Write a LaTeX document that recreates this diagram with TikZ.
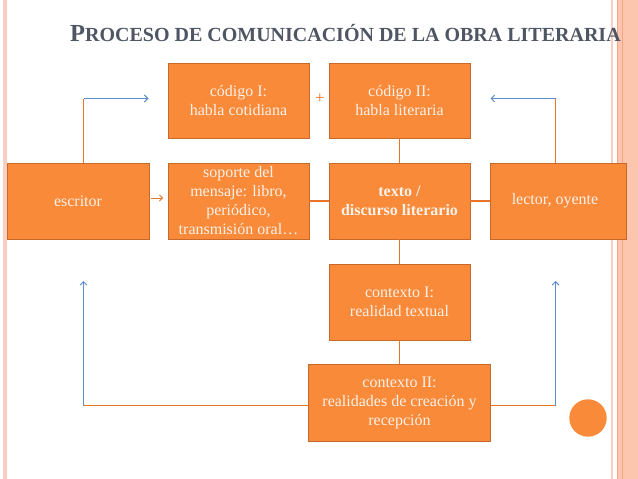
\documentclass[tikz,border=0pt]{standalone}
\usepackage{fontspec}
\setmainfont{Liberation Serif}
\usetikzlibrary{arrows.meta}
\definecolor{boxfill}{HTML}{F88A3A}
\definecolor{boxline}{HTML}{C8692C}
\definecolor{boxtext}{HTML}{FDF1E8}
\definecolor{conncol}{HTML}{E8742A}
\definecolor{bluecol}{HTML}{5B8BC8}
\definecolor{titlecol}{HTML}{4E5664}
\definecolor{pinkA}{HTML}{F8CFC0}
\definecolor{pinkB}{HTML}{FCC6AE}
\definecolor{pinkC}{HTML}{F3A585}
\tikzset{
  box/.style={draw=boxline, line width=0.9pt, fill=boxfill, text=boxtext, inner sep=0pt,
    align=center, font=\fontsize{16}{19}\selectfont},
  orangeline/.style={draw=conncol, line width=1.2pt},
  bluearrow/.style={draw=bluecol, line width=1pt, -{Straight Barb[length=3.5pt,width=7pt]}},
  smallarrow/.style={draw=conncol, line width=0.9pt, -{Straight Barb[length=3pt,width=6pt]}}
}
\begin{document}
\begin{tikzpicture}[x=1pt,y=-1pt]
\useasboundingbox (0,0) rectangle (638,479);
\fill[white] (0,0) rectangle (638,479);
% borders
\fill[pinkA] (3,0) rectangle (7,479);
\fill[pinkA] (610.5,0) rectangle (613,479);
\fill[pinkB] (617,0) rectangle (638,479);
\draw[pinkC, line width=0.8pt] (617.5,0) -- (617.5,479);
\draw[pinkC, line width=0.8pt] (622,0) -- (622,479);
% title
\node[anchor=base west, text=titlecol, inner sep=0pt, font=\bfseries] (title) at (70,41.5)
  {{\fontsize{24.5}{24.5}\selectfont P}{\fontsize{20}{20}\selectfont ROCESO DE COMUNICACIÓN DE LA OBRA LITERARIA}};
% boxes
\node[box, minimum width=141pt, minimum height=75pt] (codeI) at (238.5,100.5) {código I:\\habla cotidiana};
\node[box, minimum width=141pt, minimum height=75pt] (codeII) at (399.5,100.5) {código II:\\habla literaria};
\node[box, minimum width=142pt, minimum height=76pt] (escritor) at (78,201) {escritor};
\node[box, minimum width=141pt, minimum height=76pt] (soporte) at (238.5,201) {soporte del\\mensaje: libro,\\periódico,\\transmisión oral…};
\node[box, minimum width=141pt, minimum height=76pt, font=\fontsize{16}{19}\selectfont\bfseries] (texto) at (399.5,201) {texto /\\discurso literario};
\node[box, minimum width=136pt, minimum height=76pt] (lector) at (558,201) {\hspace*{-6pt}lector, oyente};
\node[box, minimum width=141pt, minimum height=76pt] (ctxI) at (399.5,302) {contexto I:\\realidad textual};
\node[box, minimum width=182pt, minimum height=77pt] (ctxII) at (399.5,402.5) {contexto II:\\realidades de creación y\\recepción};
\node[text=conncol, font=\fontsize{17}{17}\selectfont, inner sep=0pt] (plus) at (320,99) {+};
% circle
\fill[boxfill] (588,418) circle (18.7);
% coordinates
\coordinate (tl) at (83.5,98.5);
\coordinate (tlend) at (148.5,98.5);
\coordinate (tr) at (555.5,98.5);
\coordinate (trend) at (490.5,98.5);
\coordinate (bl) at (83.5,405.5);
\coordinate (blend) at (83.5,281);
\coordinate (br) at (555.5,405.5);
\coordinate (brend) at (555.5,281);
% connectors
\draw[orangeline] (escritor.north -| tl) -- (tl);
\draw[bluearrow] (tl) -- (tlend);
\draw[orangeline] (lector.north -| tr) -- (tr);
\draw[bluearrow] (tr) -- (trend);
\draw[orangeline] (codeII.south) -- (texto.north);
\draw[smallarrow] ([xshift=1.5pt,yshift=3pt]escritor.east) -- ([xshift=-4.5pt,yshift=3pt]soporte.west);
\draw[orangeline] (soporte.east) -- (texto.west);
\draw[orangeline] (texto.east) -- (lector.west);
\draw[orangeline] (texto.south) -- (ctxI.north);
\draw[orangeline] (ctxI.south) -- (ctxII.north);
\draw[orangeline] (ctxII.west |- bl) -- (bl);
\draw[bluearrow] (bl) -- (blend);
\draw[orangeline] (ctxII.east |- br) -- (br);
\draw[bluearrow] (br) -- (brend);
\end{tikzpicture}
\end{document}
